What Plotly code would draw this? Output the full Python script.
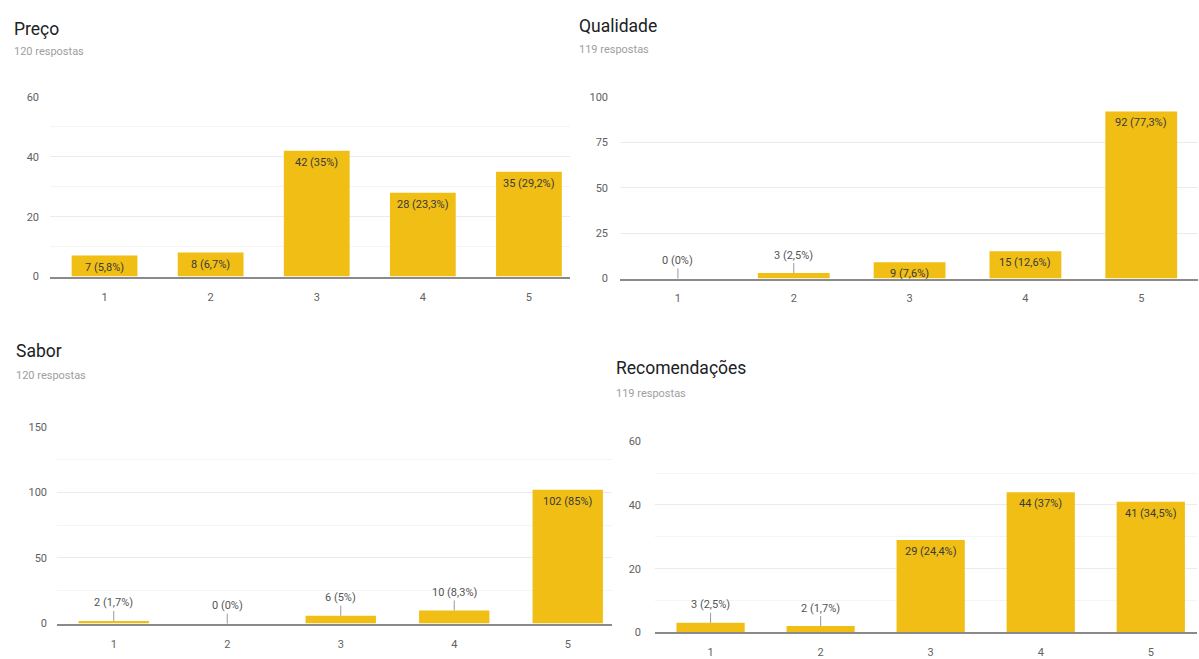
import plotly.graph_objects as go

W, H = 1199, 659

# Survey results: number of answers per rating (1-5) for each question
categories = ["1", "2", "3", "4", "5"]
titles = ["Preço", "Qualidade", "Sabor", "Recomendações"]
preco = [7, 8, 42, 28, 35]
qualidade = [0, 3, 9, 15, 92]
sabor = [2, 0, 6, 10, 102]
recomendacoes = [3, 2, 29, 44, 41]
respostas = [120, 119, 120, 119]
y_max = [60, 100, 150, 60]
y_step = [20, 25, 50, 20]

series = [preco, qualidade, sabor, recomendacoes]
positions = list(range(1, len(categories) + 1))

BAR = "#F0BE14"
FONT = "Roboto, Arial, sans-serif"

# Pixel boxes of each plot area (left, right, top, bottom), x range in rating units,
# header positions and whether half-step minor gridlines are shown.
panels = [
    dict(box=(50, 570, 92.7, 276), xr=(0.486, 5.387), head=(12, 23, 46), minor=True, stand=10),
    dict(box=(620, 1198, 92.7, 278), xr=(0.5, 5.49), head=(577, 20, 44), minor=False, stand=11),
    dict(box=(57, 612, 429.3, 630), xr=(0.5, 5.39), head=(14, 352, 377), minor=True, stand=9),
    dict(box=(655, 1197, 444, 639), xr=(0.495, 5.42), head=(614, 369, 395), minor=True, stand=13),
]


def px_x(v):
    return v / W


def px_y(v):
    return 1 - v / H


def pct_text(v, total):
    s = f"{round(v / total * 100, 1):.1f}".rstrip("0").rstrip(".")
    return f"{v} ({s.replace('.', ',')}%)"


fig = go.Figure()
annotations = []
layout = {}

for i, (vals, title, total, ymax, step, p) in enumerate(
    zip(series, titles, respostas, y_max, y_step, panels), start=1
):
    xa, ya = f"x{i}", f"y{i}"
    left, right, top, bottom = p["box"]

    fig.add_trace(go.Bar(
        x=positions, y=vals, xaxis=xa, yaxis=ya,
        marker=dict(color=BAR, line=dict(width=0)),
        width=0.62, showlegend=False,
        customdata=categories, hovertemplate="%{customdata}: %{y}<extra></extra>",
    ))

    layout[f"xaxis{i}"] = dict(
        domain=[px_x(left), px_x(right)], anchor=ya,
        range=list(p["xr"]), tickvals=positions, ticktext=categories,
        showgrid=False, zeroline=False,
        showline=True, linecolor="#8a8a8a", linewidth=1.5,
        ticks="", ticklabelstandoff=9,
        tickfont=dict(family=FONT, size=11, color="#616161"),
        fixedrange=True,
    )
    yax = dict(
        domain=[px_y(bottom), px_y(top)], anchor=xa,
        range=[0, ymax], tick0=0, dtick=step,
        showgrid=True, gridcolor="#ebebeb", gridwidth=1,
        zeroline=False, showline=False, ticks="",
        ticklabelstandoff=p["stand"],
        tickfont=dict(family=FONT, size=11, color="#616161"),
        fixedrange=True,
    )
    if p["minor"]:
        yax["minor"] = dict(dtick=step / 2, tick0=0, showgrid=True, gridcolor="#f4f4f4", gridwidth=1)
    layout[f"yaxis{i}"] = yax

    # value labels: inside the bar top when it fits, else above with a stem
    for x, v in zip(positions, vals):
        txt = pct_text(v, total)
        if v / ymax >= 0.08:
            annotations.append(dict(
                x=x, y=v, xref=xa, yref=ya, text=txt, showarrow=False,
                yanchor="top", yshift=-3,
                font=dict(family=FONT, size=11, color="#3a3a3a"),
            ))
        else:
            annotations.append(dict(
                x=x, y=v, xref=xa, yref=ya, text=txt, showarrow=True,
                arrowhead=0, arrowwidth=1, arrowcolor="#9a9a9a",
                ax=0, ay=-18, standoff=0,
                font=dict(family=FONT, size=11, color="#555555"),
            ))

    hx, ty, sy = p["head"]
    annotations.append(dict(
        x=px_x(hx), y=px_y(ty), xref="paper", yref="paper", text=title,
        showarrow=False, xanchor="left", yanchor="middle",
        font=dict(family=FONT, size=17.5, color="#202124"),
    ))
    annotations.append(dict(
        x=px_x(hx), y=px_y(sy), xref="paper", yref="paper", text=f"{total} respostas",
        showarrow=False, xanchor="left", yanchor="middle",
        font=dict(family=FONT, size=11, color="#9e9e9e"),
    ))

fig.update_layout(
    width=W, height=H,
    margin=dict(l=0, r=0, t=0, b=0),
    paper_bgcolor="white", plot_bgcolor="white",
    annotations=annotations,
    **layout,
)

fig.write_html("out.html", config={"displayModeBar": False})
